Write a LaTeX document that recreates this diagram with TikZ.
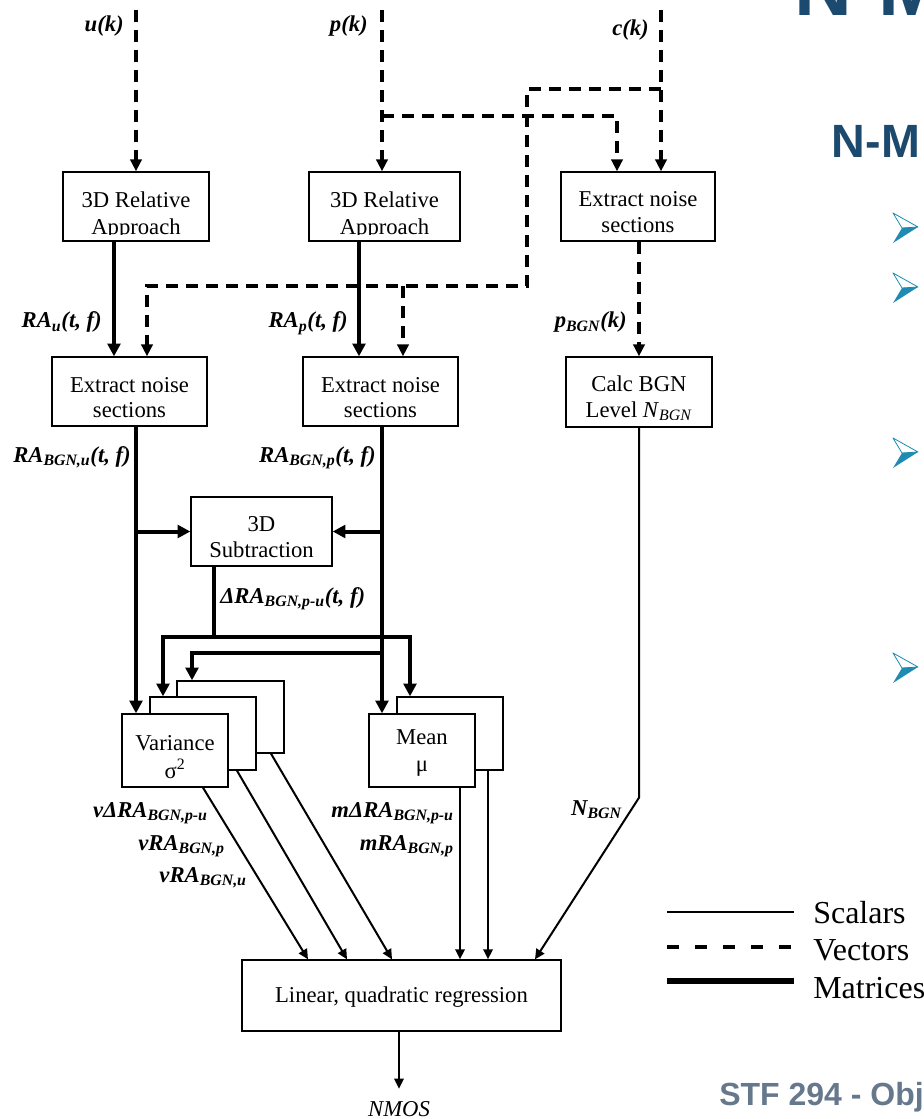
\documentclass[tikz,border=0pt]{standalone}
\usepackage{fontspec}
\setmainfont{Liberation Serif}
\newfontfamily\slidesans{Liberation Sans}
\usetikzlibrary{arrows.meta,calc}
\definecolor{titleblue}{HTML}{1C4A6E}
\definecolor{bulletteal}{HTML}{1F8BB2}
\definecolor{footgrey}{HTML}{66798C}
\newcommand\pxu{0.75pt}

\begin{document}
\begin{tikzpicture}[x=0.75pt,y=-0.75pt,
  box/.style={draw,line width=1pt,fill=white,inner sep=0pt},
  txt/.style={anchor=base,inner sep=0pt,font=\fontsize{17}{20}\selectfont},
  lbl/.style={inner sep=0pt,font=\fontsize{17}{20}\selectfont\bfseries\itshape},
  legtxt/.style={anchor=base west,inner sep=0pt,font=\fontsize{24}{28}\selectfont},
  vec/.style={line width=2.5pt,dash pattern=on 9pt off 6pt},
  mat/.style={line width=3pt},
  sca/.style={line width=1.5pt},
  vtip/.style={-{Triangle[length=9pt,width=8.5pt]}},
  mtip/.style={-{Triangle[length=9.5pt,width=9.5pt]}},
  stip/.style={-{Triangle[length=7.5pt,width=7pt]}},
  bullet/.pic={
    \draw[bulletteal,line width=0.6pt,line join=round] (0,-15) -- (25,-1) -- (9,0) -- cycle;
    \fill[bulletteal] (9,0) -- (25,-1) -- (0,15) -- cycle;
  },
]
\useasboundingbox (0,0) rectangle (923,1119);
\clip (0,0) rectangle (923,1119);
\fill[white] (0,0) rectangle (923,1119);

% ---------- processing blocks ----------
\node[box,minimum width=146*\pxu,minimum height=69*\pxu] (RAu) at (136,206.5) {};
\node[box,minimum width=151*\pxu,minimum height=69*\pxu] (RAp) at (384.5,206.5) {};
\node[box,minimum width=154*\pxu,minimum height=69*\pxu] (ENc) at (638,206.5) {};
\node[box,minimum width=155*\pxu,minimum height=69*\pxu] (ENu) at (129.5,391.5) {};
\node[box,minimum width=155*\pxu,minimum height=69*\pxu] (ENp) at (380.5,391.5) {};
\node[box,minimum width=146*\pxu,minimum height=70*\pxu] (BGN) at (639,392) {};
\node[box,minimum width=141*\pxu,minimum height=69*\pxu] (Sub) at (261.5,531.5) {};
\node[box,minimum width=107*\pxu,minimum height=72*\pxu] (Vb) at (230.5,717) {};
\node[box,minimum width=106*\pxu,minimum height=73*\pxu] (Vm) at (203,733.5) {};
\node[box,minimum width=106*\pxu,minimum height=73*\pxu] (Vf) at (175,750.5) {};
\node[box,minimum width=106*\pxu,minimum height=73*\pxu] (Mb) at (450,733.5) {};
\node[box,minimum width=106*\pxu,minimum height=73*\pxu] (Mf) at (422,750.5) {};
\node[box,minimum width=319*\pxu,minimum height=71*\pxu] (Reg) at (401.5,995.5) {};

% block captions (text clipped to the box interior where it overflows)
\begin{scope}
  \clip (RAu.north west) rectangle ($(RAu.south east)+(0,-7)$);
  \node[txt] (RAu1) at ($(RAu.north)+(0,36)$) {3D Relative};
  \node[txt] (RAu2) at ($(RAu.north)+(0,63)$) {Approach};
\end{scope}
\begin{scope}
  \clip (RAp.north west) rectangle ($(RAp.south east)+(0,-7)$);
  \node[txt] (RAp1) at ($(RAp.north)+(0,36)$) {3D Relative};
  \node[txt] (RAp2) at ($(RAp.north)+(0,63)$) {Approach};
\end{scope}
\node[txt] (ENc1) at ($(ENc.north)+(0,35)$) {Extract noise};
\node[txt] (ENc2) at ($(ENc.north)+(0,61)$) {sections};
\node[txt] (ENu1) at ($(ENu.north)+(0,36)$) {Extract noise};
\node[txt] (ENu2) at ($(ENu.north)+(0,61)$) {sections};
\node[txt] (ENp1) at ($(ENp.north)+(0,36)$) {Extract noise};
\node[txt] (ENp2) at ($(ENp.north)+(0,61)$) {sections};
\begin{scope}
  \clip (BGN.north west) rectangle ($(BGN.south east)+(0,-8)$);
  \node[txt] (BGN1) at ($(BGN.north)+(0,35)$) {Calc BGN};
  \node[txt] (BGN2) at ($(BGN.north)+(0,61)$) {Level \textit{N}\textsubscript{\textit{BGN}}};
\end{scope}
\node[txt] (Sub1) at ($(Sub.north)+(0,35)$) {3D};
\node[txt] (Sub2) at ($(Sub.north)+(0,61)$) {Subtraction};
\begin{scope}
  \clip (Vf.north west) rectangle ($(Vf.south east)+(0,-8)$);
  \node[txt] (Vf1) at ($(Vf.north)+(0,37)$) {Variance};
  \node[txt] (Vf2) at ($(Vf.north)+(0,65)$) {σ\textsuperscript{2}};
\end{scope}
\node[txt] (Mf1) at ($(Mf.north)+(0,31)$) {Mean};
\node[txt] (Mf2) at ($(Mf.north)+(0,58)$) {μ};
\node[txt] (Reg1) at ($(Reg.north)+(0,43)$) {Linear, quadratic regression};

% ---------- signal labels ----------
\node[lbl,anchor=base east] (Luk) at (124,32) {u(k)};
\node[lbl,anchor=base east] (Lpk) at (368,32) {p(k)};
\node[lbl,anchor=base east] (Lck) at (649,36) {c(k)};
\node[lbl,anchor=base east] (Lrau) at (102,328) {RA\textsubscript{u}(t, f)};
\node[lbl,anchor=base east] (Lrap) at (348,328) {RA\textsubscript{p}(t, f)};
\node[lbl,anchor=base east] (Lpbgn) at (627,328) {p\textsubscript{BGN}(k)};
\node[lbl,anchor=base east] (Lrabu) at (131,462) {RA\textsubscript{BGN,u}(t, f)};
\node[lbl,anchor=base east] (Lrabp) at (376,462) {RA\textsubscript{BGN,p}(t, f)};
\node[lbl,anchor=base west] (Ldra) at (220,603) {ΔRA\textsubscript{BGN,p-u}(t, f)};
\node[lbl,anchor=base east] (Lv1) at (208,817) {vΔRA\textsubscript{BGN,p-u}};
\node[lbl,anchor=base east] (Lv2) at (225,850) {vRA\textsubscript{BGN,p}};
\node[lbl,anchor=base east] (Lv3) at (247,882) {vRA\textsubscript{BGN,u}};
\node[lbl,anchor=base east] (Lm1) at (454,817) {mΔRA\textsubscript{BGN,p-u}};
\node[lbl,anchor=base east] (Lm2) at (454,850) {mRA\textsubscript{BGN,p}};
\node[lbl,anchor=base east] (Lnb) at (622,815) {N\textsubscript{BGN}};
\node[txt,font=\fontsize{17}{20}\selectfont\itshape] (nmos) at (399,1116) {NMOS};

% ---------- vector (dashed) connections ----------
\coordinate (uin) at (136,10);
\coordinate (pin) at (382,10);
\coordinate (cin) at (661,10);
\coordinate (pj) at (382,116);
\coordinate (cj) at (661,89);
\coordinate (ck) at (527,286);
\coordinate (dp) at ($(ENp.north)+(22.5,0)$);
\draw[vec,vtip] (uin) -- (RAu.north);
\draw[vec,vtip] (pin) -- (RAp.north -| pin);
\draw[vec,vtip] (pj) -| ($(ENc.north)+(-21,0)$);
\draw[vec,vtip] (cin) -- ($(ENc.north)+(23,0)$);
\draw[vec,vtip] (cj) -| (ck) -| ($(ENu.north)+(17.5,0)$);
\draw[vec,vtip] (ck -| dp) -- (dp);
\draw[vec,vtip] (ENc.south -| BGN.north) -- (BGN.north);

% ---------- matrix (thick) connections ----------
\coordinate (mu) at ($(RAu.south)+(-22,0)$);
\coordinate (mp) at ($(RAp.south)+(-25.5,0)$);
\coordinate (bu) at ($(ENu.south)+(6.5,0)$);
\coordinate (bp) at ($(ENp.south)+(1.5,0)$);
\coordinate (ds) at ($(Sub.south)+(-47.5,0)$);
\coordinate (dj) at ($(ds)+(0,70)$);
\coordinate (pj2) at (382,653);
\draw[mat,mtip] (mu) -- (mu |- ENu.north);
\draw[mat,mtip] (mp) -- (mp |- ENp.north);
\draw[mat,mtip] (bu) -- (bu |- Vf.north);
\draw[mat,mtip] (bp) -- (bp |- Mf.north);
\draw[mat,mtip] (bu |- Sub.west) -- (Sub.west);
\draw[mat,mtip] (bp |- Sub.east) -- (Sub.east);
\draw[mat] (ds) -- (dj);
\draw[mat,mtip] (dj) -| ($(Vm.north)+(-40,0)$);
\draw[mat,mtip] (dj) -| ($(Mb.north)+(-40,0)$);
\draw[mat,mtip] (pj2) -| ($(Vb.north)+(-38.5,0)$);

% ---------- scalar (thin) connections ----------
\coordinate (mf1) at ($(Mf.south)+(38,0)$);
\coordinate (mb1) at ($(Mb.south)+(38,0)$);
\draw[sca,stip] ($(Vf.south)+(28,0)$) -- ($(Reg.north)+(-93.5,0)$);
\draw[sca,stip] ($(Vm.south)+(34,0)$) -- ($(Reg.north)+(-54.5,0)$);
\draw[sca,stip] ($(Vb.south)+(40.5,0)$) -- ($(Reg.north)+(-9.5,0)$);
\draw[sca,stip] (mf1) -- (mf1 |- Reg.north);
\draw[sca,stip] (mb1) -- (mb1 |- Reg.north);
\draw[sca,stip] (BGN.south) -- ($(BGN.south)+(0,370)$) -- ($(Reg.north)+(133.5,0)$);
\draw[sca,stip] (nmos.north |- Reg.south) -- ([yshift=9pt]nmos.north);

% ---------- legend ----------
\node[legtxt] (lgS) at (813,923) {Scalars};
\node[legtxt] (lgV) at (813,960) {Vectors};
\node[legtxt] (lgM) at (813,998) {Matrices};
\draw[line width=1.5pt] (667,912) -- (794,912);
\draw[line width=3.25pt,dash pattern=on 9pt off 12pt] (667,947) -- (794,947);
\draw[line width=5pt] (667,981) -- (794,981);

% ---------- slide frame pieces ----------
\node[anchor=base west,inner sep=0pt,text=titleblue,
      font=\slidesans\bfseries\fontsize{60}{70}\selectfont] (title) at (794,16) {N-M};
\node[anchor=base west,inner sep=0pt,text=titleblue,
      font=\slidesans\bfseries\fontsize{35}{42}\selectfont] (head) at (831.5,158) {N-M};
\node[anchor=base west,inner sep=0pt,text=footgrey,
      font=\slidesans\bfseries\fontsize{24}{28}\selectfont] (foot) at (719,1105) {STF 294 - Obj};
\pic at (893,228) {bullet};
\pic at (893,288) {bullet};
\pic at (893,453) {bullet};
\pic at (893,668) {bullet};
\end{tikzpicture}
\end{document}
